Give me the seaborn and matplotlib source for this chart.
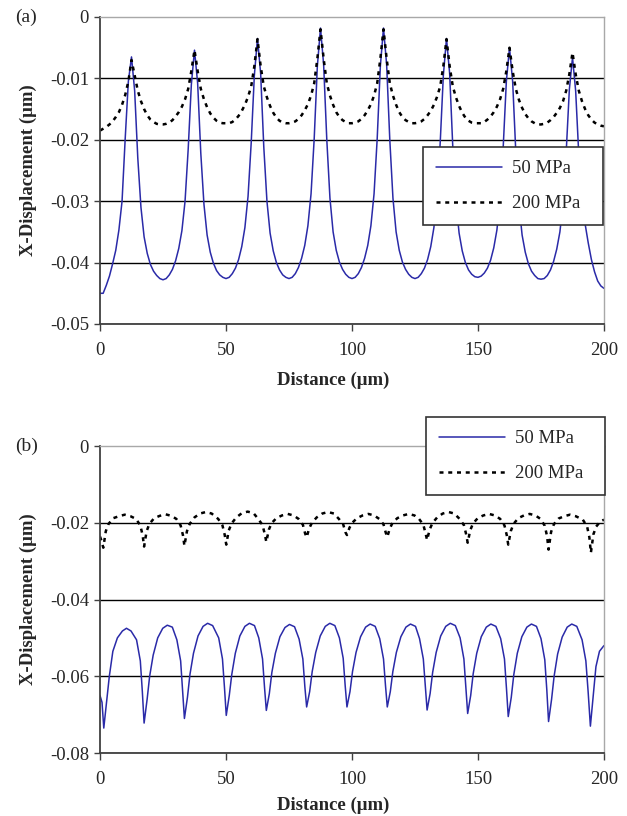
import numpy as np
import pandas as pd
import matplotlib
matplotlib.use("Agg")
import matplotlib.pyplot as plt
import seaborn as sns

# ---------------- data: panel (a) ----------------
a_step = 1.25  # spacing of the sampled distance values (µm)
a_50 = [
    -0.0450, -0.0450, -0.0437, -0.0422, -0.0402, -0.0380, -0.0347, -0.0300, -0.0198, -0.0105,
    -0.0065, -0.0120, -0.0230, -0.0310, -0.0358, -0.0385, -0.0403, -0.0414, -0.0421, -0.0426,
    -0.0428, -0.0426, -0.0420, -0.0411, -0.0397, -0.0377, -0.0348, -0.0300, -0.0215, -0.0110,
    -0.0054, -0.0108, -0.0222, -0.0305, -0.0355, -0.0383, -0.0401, -0.0413, -0.0420, -0.0424,
    -0.0426, -0.0424, -0.0418, -0.0409, -0.0395, -0.0374, -0.0343, -0.0292, -0.0205, -0.0095,
    -0.0035, -0.0092, -0.0212, -0.0300, -0.0352, -0.0381, -0.0400, -0.0412, -0.0420, -0.0424,
    -0.0426, -0.0424, -0.0418, -0.0408, -0.0393, -0.0372, -0.0340, -0.0288, -0.0198, -0.0080,
    -0.0018, -0.0078, -0.0200, -0.0295, -0.0350, -0.0380, -0.0399, -0.0411, -0.0419, -0.0424,
    -0.0426, -0.0424, -0.0418, -0.0408, -0.0393, -0.0372, -0.0340, -0.0288, -0.0198, -0.0080,
    -0.0018, -0.0078, -0.0200, -0.0295, -0.0350, -0.0380, -0.0399, -0.0411, -0.0419, -0.0424,
    -0.0426, -0.0424, -0.0418, -0.0409, -0.0395, -0.0374, -0.0343, -0.0292, -0.0205, -0.0095,
    -0.0035, -0.0092, -0.0212, -0.0300, -0.0352, -0.0381, -0.0400, -0.0412, -0.0419, -0.0423,
    -0.0424, -0.0422, -0.0417, -0.0409, -0.0396, -0.0376, -0.0347, -0.0298, -0.0212, -0.0105,
    -0.0050, -0.0105, -0.0220, -0.0305, -0.0355, -0.0383, -0.0402, -0.0414, -0.0421, -0.0426,
    -0.0427, -0.0426, -0.0421, -0.0412, -0.0398, -0.0378, -0.0350, -0.0303, -0.0220, -0.0118,
    -0.0066, -0.0120, -0.0225, -0.0300, -0.0337, -0.0368, -0.0395, -0.0415, -0.0430, -0.0438,
    -0.0442,
]
a_200 = [
    -0.0185, -0.0182, -0.0179, -0.0175, -0.0170, -0.0163, -0.0155, -0.0143, -0.0127, -0.0105,
    -0.0070, -0.0095, -0.0120, -0.0137, -0.0150, -0.0160, -0.0167, -0.0171, -0.0174, -0.0175,
    -0.0175, -0.0174, -0.0172, -0.0168, -0.0162, -0.0155, -0.0146, -0.0134, -0.0117, -0.0088,
    -0.0054, -0.0088, -0.0117, -0.0134, -0.0147, -0.0157, -0.0164, -0.0169, -0.0172, -0.0173,
    -0.0173, -0.0173, -0.0171, -0.0167, -0.0161, -0.0153, -0.0143, -0.0130, -0.0113, -0.0080,
    -0.0036, -0.0080, -0.0113, -0.0131, -0.0145, -0.0156, -0.0164, -0.0169, -0.0172, -0.0173,
    -0.0173, -0.0172, -0.0170, -0.0166, -0.0160, -0.0152, -0.0142, -0.0128, -0.0108, -0.0068,
    -0.0020, -0.0068, -0.0108, -0.0128, -0.0143, -0.0155, -0.0163, -0.0168, -0.0171, -0.0173,
    -0.0173, -0.0172, -0.0170, -0.0166, -0.0160, -0.0152, -0.0142, -0.0128, -0.0108, -0.0068,
    -0.0020, -0.0068, -0.0108, -0.0128, -0.0143, -0.0155, -0.0163, -0.0168, -0.0171, -0.0173,
    -0.0173, -0.0172, -0.0170, -0.0166, -0.0160, -0.0153, -0.0143, -0.0130, -0.0113, -0.0080,
    -0.0036, -0.0080, -0.0113, -0.0131, -0.0145, -0.0156, -0.0164, -0.0169, -0.0172, -0.0173,
    -0.0173, -0.0173, -0.0171, -0.0167, -0.0162, -0.0155, -0.0146, -0.0134, -0.0117, -0.0088,
    -0.0050, -0.0088, -0.0117, -0.0135, -0.0148, -0.0158, -0.0165, -0.0170, -0.0173, -0.0175,
    -0.0175, -0.0174, -0.0172, -0.0168, -0.0163, -0.0156, -0.0148, -0.0137, -0.0120, -0.0093,
    -0.0058, -0.0093, -0.0120, -0.0137, -0.0150, -0.0160, -0.0167, -0.0172, -0.0175, -0.0177,
    -0.0178,
]
a_x = [round(i * a_step, 4) for i in range(len(a_50))]

# ---------------- data: panel (b) ----------------
b_50_x = [
    0.0, 0.8, 1.5,
    2.7, 3.7, 5.1, 6.9, 8.9, 10.5, 12.3, 14.5, 16.0, 16.8, 17.5,
    18.7, 19.7, 21.1, 22.9, 24.9, 26.7, 28.7, 30.5, 32.0, 32.8, 33.5,
    34.7, 35.7, 37.1, 38.9, 40.9, 42.7, 44.7, 47.1, 48.6, 49.4, 50.1,
    51.3, 52.3, 53.7, 55.5, 57.5, 59.3, 61.3, 63.0, 64.5, 65.3, 66.0,
    67.2, 68.2, 69.6, 71.4, 73.4, 75.2, 77.2, 79.0, 80.5, 81.3, 82.0,
    83.2, 84.2, 85.6, 87.4, 89.4, 91.2, 93.2, 95.0, 96.5, 97.3, 98.0,
    99.2, 100.2, 101.6, 103.4, 105.4, 107.2, 109.2, 111.0, 112.5, 113.3, 114.0,
    115.2, 116.2, 117.6, 119.4, 121.4, 123.2, 125.2, 126.8, 128.3, 129.1, 129.8,
    131.0, 132.0, 133.4, 135.2, 137.2, 139.0, 141.0, 142.9, 144.4, 145.2, 145.9,
    147.1, 148.1, 149.5, 151.3, 153.3, 155.1, 157.1, 159.0, 160.5, 161.3, 162.0,
    163.2, 164.2, 165.6, 167.4, 169.4, 171.2, 173.2, 175.0, 176.5, 177.3, 178.0,
    179.2, 180.2, 181.6, 183.4, 185.4, 187.2, 189.2, 191.3, 192.8, 193.7, 194.6,
    195.8, 196.8, 198.2, 200.0,
]
b_50_y = [
    -0.0650, -0.0668, -0.0735,
    -0.0660, -0.0600, -0.0535, -0.0500, -0.0482, -0.0475, -0.0482, -0.0505, -0.0560, -0.0640, -0.0722,
    -0.0660, -0.0600, -0.0545, -0.0500, -0.0475, -0.0467, -0.0472, -0.0505, -0.0560, -0.0640, -0.0710,
    -0.0655, -0.0595, -0.0540, -0.0495, -0.0470, -0.0462, -0.0468, -0.0500, -0.0555, -0.0630, -0.0702,
    -0.0650, -0.0595, -0.0540, -0.0495, -0.0470, -0.0462, -0.0468, -0.0500, -0.0555, -0.0630, -0.0689,
    -0.0645, -0.0590, -0.0540, -0.0497, -0.0473, -0.0465, -0.0471, -0.0503, -0.0555, -0.0628, -0.0680,
    -0.0640, -0.0588, -0.0538, -0.0495, -0.0470, -0.0462, -0.0468, -0.0500, -0.0553, -0.0625, -0.0680,
    -0.0640, -0.0588, -0.0538, -0.0497, -0.0472, -0.0464, -0.0470, -0.0502, -0.0555, -0.0625, -0.0680,
    -0.0640, -0.0588, -0.0538, -0.0497, -0.0472, -0.0464, -0.0470, -0.0502, -0.0555, -0.0628, -0.0688,
    -0.0645, -0.0590, -0.0538, -0.0495, -0.0470, -0.0462, -0.0468, -0.0500, -0.0555, -0.0630, -0.0697,
    -0.0650, -0.0593, -0.0540, -0.0497, -0.0472, -0.0464, -0.0470, -0.0502, -0.0555, -0.0632, -0.0705,
    -0.0655, -0.0596, -0.0540, -0.0497, -0.0472, -0.0464, -0.0470, -0.0502, -0.0557, -0.0635, -0.0718,
    -0.0660, -0.0600, -0.0542, -0.0498, -0.0472, -0.0464, -0.0470, -0.0505, -0.0560, -0.0640, -0.0730,
    -0.0645, -0.0575, -0.0535, -0.0520,
]
b_200_x = [
    0.0, 0.6, 1.3,
    2.3, 3.4, 5.3, 7.5, 9.8, 12.1, 14.3, 16.0, 16.9, 17.5,
    18.5, 19.6, 21.5, 23.7, 26.0, 28.3, 30.3, 32.0, 32.9, 33.5,
    34.5, 35.6, 37.5, 39.7, 42.0, 44.3, 46.9, 48.6, 49.5, 50.1,
    51.1, 52.2, 54.1, 56.3, 58.6, 60.9, 62.8, 64.5, 65.4, 66.0,
    67.0, 68.1, 70.0, 72.2, 74.5, 76.8, 78.8, 80.5, 81.4, 82.0,
    83.0, 84.1, 86.0, 88.2, 90.5, 92.8, 94.8, 96.5, 97.4, 98.0,
    99.0, 100.1, 102.0, 104.2, 106.5, 108.8, 110.8, 112.5, 113.4, 114.0,
    115.0, 116.1, 118.0, 120.2, 122.5, 124.8, 126.6, 128.3, 129.2, 129.8,
    130.8, 131.9, 133.8, 136.0, 138.3, 140.6, 142.7, 144.4, 145.3, 145.9,
    146.9, 148.0, 149.9, 152.1, 154.4, 156.7, 158.8, 160.5, 161.4, 162.0,
    163.0, 164.1, 166.0, 168.2, 170.5, 172.8, 174.8, 176.5, 177.4, 178.0,
    179.0, 180.1, 182.0, 184.2, 186.5, 188.8, 191.6, 193.3, 194.2, 194.8,
    195.8, 196.9, 198.5, 200.0,
]
b_200_y = [
    -0.0236, -0.0247, -0.0265,
    -0.0222, -0.0203, -0.0188, -0.0183, -0.0179, -0.0183, -0.0190, -0.0207, -0.0232, -0.0262,
    -0.0222, -0.0203, -0.0188, -0.0182, -0.0178, -0.0182, -0.0190, -0.0207, -0.0232, -0.0260,
    -0.0222, -0.0203, -0.0186, -0.0176, -0.0172, -0.0176, -0.0190, -0.0207, -0.0232, -0.0257,
    -0.0220, -0.0202, -0.0186, -0.0175, -0.0171, -0.0175, -0.0190, -0.0206, -0.0230, -0.0250,
    -0.0218, -0.0201, -0.0188, -0.0181, -0.0177, -0.0181, -0.0190, -0.0205, -0.0228, -0.0238,
    -0.0215, -0.0200, -0.0186, -0.0176, -0.0172, -0.0176, -0.0190, -0.0204, -0.0225, -0.0232,
    -0.0213, -0.0200, -0.0188, -0.0181, -0.0177, -0.0181, -0.0190, -0.0204, -0.0226, -0.0237,
    -0.0215, -0.0200, -0.0188, -0.0181, -0.0177, -0.0181, -0.0190, -0.0205, -0.0228, -0.0245,
    -0.0218, -0.0201, -0.0186, -0.0176, -0.0172, -0.0176, -0.0190, -0.0206, -0.0230, -0.0252,
    -0.0220, -0.0202, -0.0188, -0.0181, -0.0177, -0.0181, -0.0190, -0.0207, -0.0232, -0.0257,
    -0.0222, -0.0203, -0.0188, -0.0181, -0.0177, -0.0181, -0.0190, -0.0208, -0.0235, -0.0270,
    -0.0224, -0.0204, -0.0189, -0.0183, -0.0179, -0.0183, -0.0192, -0.0210, -0.0238, -0.0278,
    -0.0230, -0.0210, -0.0197, -0.0192,
]

series_labels = ["50 MPa", "200 MPa"]
panel_labels = ["(a)", "(b)"]
a_yticks = [0, -0.01, -0.02, -0.03, -0.04, -0.05]
a_yticklabels = ["0", "-0.01", "-0.02", "-0.03", "-0.04", "-0.05"]
b_yticks = [0, -0.02, -0.04, -0.06, -0.08]
b_yticklabels = ["0", "-0.02", "-0.04", "-0.06", "-0.08"]
xticks = [0, 50, 100, 150, 200]
xticklabels = ["0", "50", "100", "150", "200"]
xlabel = "Distance (\u03bcm)"
ylabel = "X-Displacement (\u03bcm)"

# ---------------- style ----------------
sns.set_style("white")
plt.rcParams["font.family"] = ["Liberation Serif", "DejaVu Serif"]
plt.rcParams["axes.unicode_minus"] = False
FS = 13.5
BLUE = "#2a2aa8"
DOT = (0, (1.6, 1.9))

fig = plt.figure(figsize=(6.27, 8.16), dpi=100)
ax_a = fig.add_axes([100 / 627, 1 - 324 / 816, 504 / 627, 307 / 816])
ax_b = fig.add_axes([100 / 627, 1 - 753 / 816, 504 / 627, 307 / 816])

df_a = pd.DataFrame({"x": a_x, "p50": a_50, "p200": a_200})
df_b50 = pd.DataFrame({"x": b_50_x, "y": b_50_y})
df_b200 = pd.DataFrame({"x": b_200_x, "y": b_200_y})

sns.lineplot(data=df_a, x="x", y="p50", ax=ax_a, color=BLUE, lw=1.1,
             label=series_labels[0], sort=False, estimator=None)
sns.lineplot(data=df_a, x="x", y="p200", ax=ax_a, color="black", lw=1.8,
             linestyle=DOT, label=series_labels[1], sort=False, estimator=None)
sns.lineplot(data=df_b50, x="x", y="y", ax=ax_b, color=BLUE, lw=1.1,
             label=series_labels[0], sort=False, estimator=None)
sns.lineplot(data=df_b200, x="x", y="y", ax=ax_b, color="black", lw=1.8,
             linestyle=DOT, label=series_labels[1], sort=False, estimator=None)


def style_axes(ax, yticks, yticklabels, ylim, legend_box, panel, ypix, xlab_y):
    ax.set_xlim(0, 200)
    ax.set_ylim(*ylim)
    ax.set_yticks(yticks)
    ax.set_yticklabels(yticklabels, fontsize=FS)
    ax.set_xticks(xticks)
    ax.set_xticklabels(xticklabels, fontsize=FS)
    ax.tick_params(axis="y", direction="out", length=4.5, width=1.0,
                   color="#404040", pad=3.5, left=True)
    ax.tick_params(axis="x", direction="out", length=5, width=1.0,
                   color="#404040", pad=8, bottom=True)
    ax.set_axisbelow(True)
    ax.yaxis.grid(True, color="black", lw=1.0)
    ax.xaxis.grid(False)
    for t, gl in zip(ax.get_yticks(), ax.get_ygridlines()):
        if t == 0:
            gl.set_visible(False)
    for s in ["left", "bottom"]:
        ax.spines[s].set_color("#404040")
        ax.spines[s].set_linewidth(1.3)
    for s in ["top", "right"]:
        ax.spines[s].set_color("#a8a8a8")
        ax.spines[s].set_linewidth(1.0)
    ax.set_xlabel(xlabel, fontsize=FS, fontweight="bold")
    ax.set_ylabel(ylabel, fontsize=FS, fontweight="bold")
    ax.xaxis.set_label_coords(0.463, xlab_y)
    ax.yaxis.set_label_coords(-0.125, 0.5)
    leg = ax.legend(loc="upper left", bbox_to_anchor=legend_box, mode="expand",
                    borderaxespad=0, frameon=True, fancybox=False,
                    edgecolor="#333333", facecolor="white", framealpha=1,
                    fontsize=FS, handlelength=3.5, handletextpad=0.55,
                    labelspacing=0.95, borderpad=0.7)
    leg.get_frame().set_linewidth(1.2)
    fig.text(15 / 627, 1 - ypix / 816, panel, fontsize=FS + 0.5, ha="left", va="center")


style_axes(ax_a, a_yticks, a_yticklabels, (-0.05, 0),
           (0.641, 0.0, 0.357, 0.5765), panel_labels[0], 17, -0.155)
style_axes(ax_b, b_yticks, b_yticklabels, (-0.08, 0),
           (0.647, 0.0, 0.355, 1.0945), panel_labels[1], 446, -0.142)

fig.savefig("out.png", dpi=100)
